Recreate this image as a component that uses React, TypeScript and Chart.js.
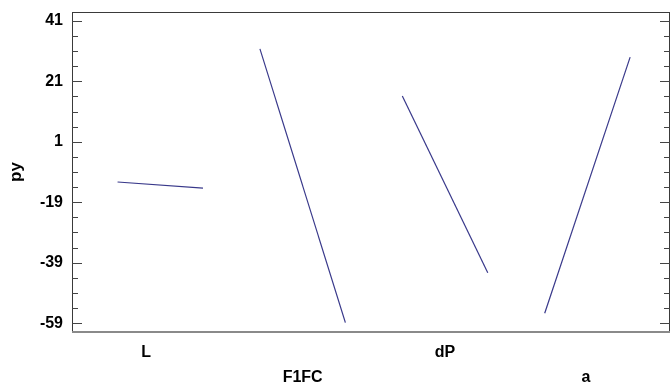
import React, { useEffect, useRef } from "react";
import { Chart, registerables } from "chart.js";

Chart.register(...registerables);

const factors = ["L", "F1FC", "dP", "a"];
const lowValues = [-12.3, 31.7, 16.1, -55.7];
const highValues = [-14.3, -58.8, -42.3, 29.0];
const yTickValues = [-59, -39, -19, 1, 21, 41];
const yMin = -61.9;
const yMax = 43.9;
const minorStep = 5;
const yTitle = "py";

const SEG = 0.6;
const labelPos = [0.2, 1.3, 2.3, 3.29];

const framePlugin = {
  id: "frameTicks",
  afterDraw(chart: any) {
    const { ctx, chartArea: a, scales } = chart;
    const y = scales.y;
    ctx.save();
    ctx.strokeStyle = "#3a3a3a";
    ctx.lineWidth = 1;
    ctx.strokeRect(a.left + 0.5, a.top + 0.5, a.right - a.left - 1, a.bottom - a.top - 1);
    ctx.strokeStyle = "#8a8a8a";
    ctx.lineWidth = 2;
    ctx.beginPath();
    ctx.moveTo(a.left, a.bottom);
    ctx.lineTo(a.right, a.bottom);
    ctx.stroke();
    ctx.strokeStyle = "#444";
    ctx.lineWidth = 1;
    const top = yTickValues[yTickValues.length - 1];
    for (let v = top; v >= yMin; v -= minorStep) {
      const major = yTickValues.includes(Math.round(v));
      const len = major ? 10 : 6;
      const py = Math.round(y.getPixelForValue(v)) + 0.5;
      ctx.beginPath();
      ctx.moveTo(a.left, py);
      ctx.lineTo(a.left + len, py);
      ctx.moveTo(a.right, py);
      ctx.lineTo(a.right - len, py);
      ctx.stroke();
    }
    ctx.restore();
  },
};

export default function App() {
  const ref = useRef<HTMLCanvasElement>(null);
  useEffect(() => {
    document.body.style.margin = "0";
    const datasets = factors.map((f, i) => ({
      label: f,
      data: [
        { x: i, y: lowValues[i] },
        { x: i + SEG, y: highValues[i] },
      ],
      borderColor: "#38388a",
      borderWidth: 1.2,
      pointRadius: 0,
      showLine: true,
      fill: false,
    }));
    const chart = new Chart(ref.current!, {
      type: "line",
      data: { datasets },
      plugins: [framePlugin],
      options: {
        animation: false,
        responsive: false,
        devicePixelRatio: 1,
        layout: { padding: { top: 12, right: 1, left: 0, bottom: 0 } },
        plugins: { legend: { display: false }, tooltip: { enabled: false } },
        scales: {
          x: {
            type: "linear",
            min: -0.32,
            max: 3.88,
            grid: { display: false, drawTicks: false },
            border: { display: false },
            afterBuildTicks: (s: any) => {
              s.ticks = labelPos.map((v) => ({ value: v }));
            },
            afterFit: (s: any) => {
              s.height = 55;
              s.paddingLeft = 0;
              s.paddingRight = 0;
            },
            ticks: {
              autoSkip: false,
              maxRotation: 0,
              padding: 8,
              color: "#000",
              font: { family: "'Liberation Sans', Arial, sans-serif", size: 16, weight: "bold", lineHeight: "25px" } as any,
              callback: (_v: any, idx: number) => (idx % 2 === 0 ? [factors[idx]] : ["", factors[idx]]),
            },
          },
          y: {
            type: "linear",
            min: yMin,
            max: yMax,
            grid: { display: false, drawTicks: false },
            border: { display: false },
            afterBuildTicks: (s: any) => {
              s.ticks = yTickValues.map((v) => ({ value: v }));
            },
            afterFit: (s: any) => {
              s.width = 72;
              s.paddingTop = 0;
              s.paddingBottom = 0;
            },
            title: {
              display: true,
              text: yTitle,
              color: "#000",
              padding: { top: 6, bottom: 8 },
              font: { family: "'Liberation Sans', Arial, sans-serif", size: 17, weight: "bold" },
            },
            ticks: {
              padding: 9,
              color: "#000",
              autoSkip: false,
              font: { family: "'Liberation Sans', Arial, sans-serif", size: 16, weight: "bold" },
              callback: (v: any) => String(v),
            },
          },
        },
      },
    });
    return () => chart.destroy();
  }, []);
  return (
    <div style={{ width: 671, height: 387, background: "#fff" }}>
      <canvas ref={ref} width={671} height={387} />
    </div>
  );
}
